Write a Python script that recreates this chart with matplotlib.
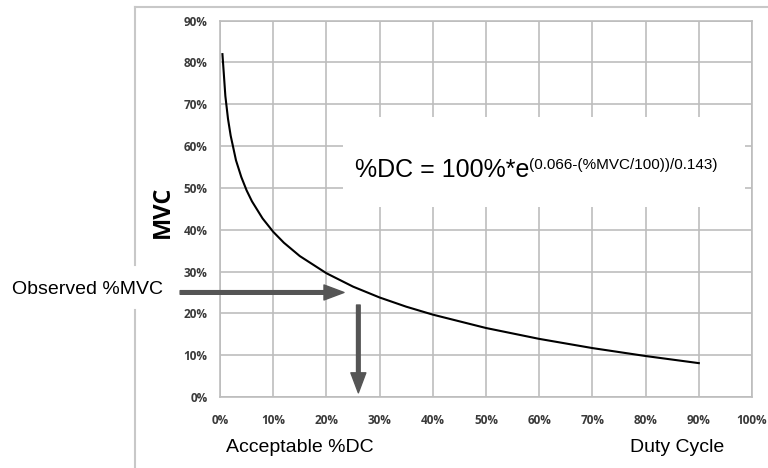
import matplotlib
matplotlib.use('Agg')
import matplotlib.pyplot as plt
from matplotlib.lines import Line2D
from matplotlib.patches import Rectangle

plt.rcParams['font.family'] = ['Liberation Sans', 'DejaVu Sans']

# ─── data ────────────────────────────────────────────────────────────────
duty_cycle = [0.45, 0.7, 1, 1.5, 2, 3, 4, 5, 6, 8, 10, 12, 15, 20, 25, 30, 35, 40, 50, 60, 70, 80, 90]
mvc        = [82.0, 77.5, 72.0, 66.5, 62.5, 56.6, 52.6, 49.4, 46.8, 42.7, 39.5, 36.9, 33.7,
              29.6, 26.4, 23.8, 21.6, 19.7, 16.5, 13.9, 11.7, 9.8, 8.1]

x_ticks = list(range(0, 101, 10))
y_ticks = list(range(0, 91, 10))
x_tick_labels = [f"{v}%" for v in x_ticks]
y_tick_labels = [f"{v}%" for v in y_ticks]

observed_mvc = 25      # horizontal arrow level
acceptable_dc = 26     # vertical arrow position

GRID = '#bdbdbd'
ARROW = '#555555'

fig = plt.figure(figsize=(7.68, 4.68), dpi=100)
ax = fig.add_axes([0.2865, 0.1517, 0.6927, 0.8041])

ax.plot(duty_cycle, mvc, color='black', lw=1.5, zorder=3)

ax.set_xlim(0, 100)
ax.set_ylim(0, 90)
ax.set_xticks(x_ticks)
ax.set_xticklabels(x_tick_labels)
ax.set_yticks(y_ticks)
ax.set_yticklabels(y_tick_labels)
ax.tick_params(length=0, labelsize=8.5, colors='#3a3a3a')
ax.tick_params(axis='x', pad=12)
ax.tick_params(axis='y', pad=9)
for lbl in ax.get_xticklabels() + ax.get_yticklabels():
    lbl.set_fontweight('bold')
    lbl.set_family(['Open Sans', 'DejaVu Sans'])
ax.set_axisbelow(True)
ax.grid(True, color=GRID, lw=1.2)
for sp in ax.spines.values():
    sp.set_color(GRID)
    sp.set_linewidth(1.2)

# white box behind the equation
ax.add_patch(Rectangle((23.1, 45.5), 75.6, 21.5, facecolor='white', edgecolor='none', zorder=1))
eq = ax.text(25.3, 52.5, '%DC = 100%*e', fontsize=18, ha='left', va='baseline', zorder=4)
ax.annotate('(0.066-(%MVC/100))/0.143)', xy=(1.0, 1.0), xycoords=eq,
            fontsize=11, ha='left', va='top', zorder=4)

# y label
ax.text(-0.108, 0.492, 'MVC', transform=ax.transAxes, rotation=90, fontsize=17,
        fontweight='bold', ha='center', va='center', family=['Open Sans', 'DejaVu Sans'])

# x labels
ax.text(0.15, -0.135, 'Acceptable %DC', transform=ax.transAxes, fontsize=14,
        ha='center', va='center')
ax.text(0.86, -0.135, 'Duty Cycle', transform=ax.transAxes, fontsize=14,
        ha='center', va='center')

# arrows
arrow_kw = dict(arrowstyle='simple,head_length=1.2,head_width=0.9,tail_width=0.22',
                color=ARROW, mutation_scale=12, shrinkA=0, shrinkB=0)
ax.annotate('', xy=(23.3, observed_mvc), xytext=(-7.5, observed_mvc),
            arrowprops=arrow_kw, annotation_clip=False, zorder=5)
ax.annotate('', xy=(acceptable_dc, 1.0), xytext=(acceptable_dc, 22),
            arrowprops=arrow_kw, annotation_clip=False, zorder=5)
fig.text(12 / 768, 1 - 290 / 468, 'Observed %MVC', fontsize=14, ha='left', va='center')

# outer frame lines
FRAME = '#c8c8c8'
fx = 135 / 768
ftop = 1 - 6.5 / 468
fig.add_artist(Line2D([fx, 1], [ftop, ftop], color=FRAME, lw=1.5))
fig.add_artist(Line2D([fx, fx], [ftop, 1 - 265 / 468], color=FRAME, lw=1.5))
fig.add_artist(Line2D([fx, fx], [1 - 310 / 468, 0], color=FRAME, lw=1.5))

fig.savefig('out.png', dpi=100)
